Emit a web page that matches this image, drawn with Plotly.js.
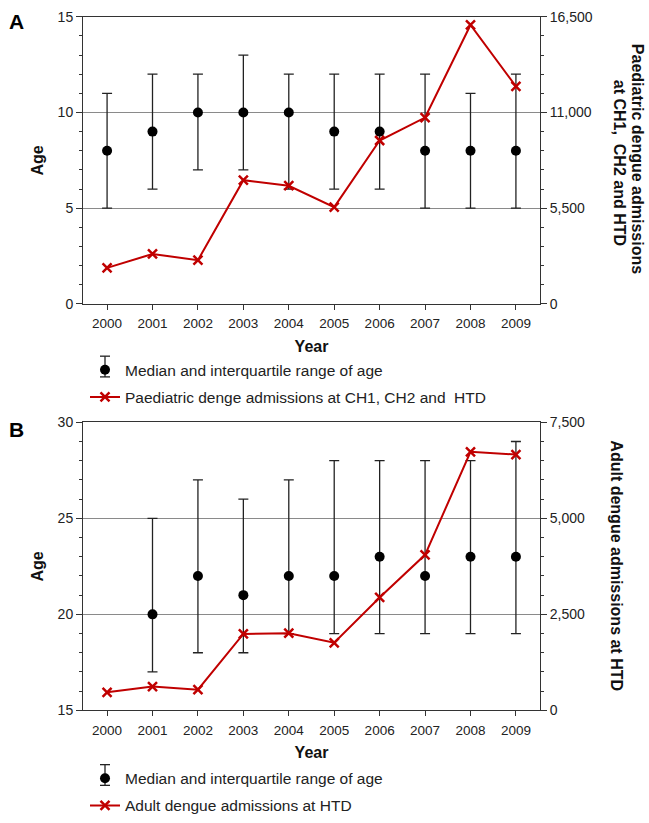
<!DOCTYPE html>
<html><head><meta charset="utf-8">
<script src="https://cdn.plot.ly/plotly-3.0.1.min.js"></script>
<style>html,body{margin:0;padding:0;background:#fff}#chart{width:649px;height:823px}</style>
</head><body><div id="chart"></div>
<script>
const years = [2000,2001,2002,2003,2004,2005,2006,2007,2008,2009];

// Panel A – paediatric
const paedMedian = [8,9,10,10,10,9,9,8,8,8];
const paedQ1     = [5,6,7,7,6,6,6,5,5,5];
const paedQ3     = [11,12,12,13,12,12,12,12,11,12];
const paedAdmissions = [2070,2870,2510,7110,6790,5560,9390,10710,16030,12500];

// Panel B – adult
const adultMedian = [null,20,22,21,22,22,23,22,23,23];
const adultQ1     = [null,17,18,18,19,19,19,19,19,19];
const adultQ3     = [null,25,27,26,27,28,28,28,28,29];
const adultAdmissions = [470,620,540,1990,2010,1760,2940,4050,6730,6660];

const xTickLabels = years.map(String);

const RED = '#c00000';
const FONT = 'Liberation Sans, Arial, sans-serif';

function errTrace(med, q1, q3, xa, ya, legend) {
  return {
    x: years, y: med, xaxis: xa, yaxis: ya, type: 'scatter', mode: 'markers',
    name: 'Median and interquartile range of age', legend: legend, legendgroup: legend+'a',
    marker: {color: '#000', size: 10},
    error_y: {type: 'data', symmetric: false,
      array: q3.map((v,i)=> v==null?null:v-med[i]),
      arrayminus: q1.map((v,i)=> v==null?null:med[i]-v),
      color: '#222', thickness: 1.3, width: 5}
  };
}
function lineTrace(vals, xa, ya, name, legend) {
  return {
    x: years, y: vals, xaxis: xa, yaxis: ya, type: 'scatter', mode: 'lines+markers',
    name: name, legend: legend, legendgroup: legend+'b',
    line: {color: RED, width: 2},
    marker: {color: RED, symbol: 'x-thin', size: 9, line: {color: RED, width: 2.5}}
  };
}

const data = [
  errTrace(paedMedian, paedQ1, paedQ3, 'x', 'y', 'legend'),
  lineTrace(paedAdmissions, 'x', 'y2', 'Paediatric denge admissions at CH1, CH2 and  HTD', 'legend'),
  errTrace(adultMedian, adultQ1, adultQ3, 'x2', 'y3', 'legend2'),
  lineTrace(adultAdmissions, 'x2', 'y4', 'Adult dengue admissions at HTD', 'legend2')
];

const xDom = [83/649, 540/649];
const domA = [1-308/823, 1-17/823];
const domB = [1-720/823, 1-428/823];

function xAxis(dom, anchor) {
  return {domain: xDom, anchor: anchor, range: [1999.47, 2009.53],
    tickvals: years, ticktext: xTickLabels, ticks: 'outside', ticklen: 5, tickcolor: '#333',
    ticklabelstandoff: 2,
    showline: true, linecolor: '#333', linewidth: 1, mirror: true, showgrid: false, zeroline: false,
    tickfont: {family: FONT, size: 13.5, color: '#222'},
    title: {text: '<b>Year</b>', font: {family: FONT, size: 16, color: '#111'}, standoff: 10}};
}
function leftAxis(dom, range, anchor) {
  return {domain: dom, anchor: anchor, range: range, dtick: 5, tick0: 0,
    ticks: 'outside', ticklen: 6, tickcolor: '#333',
    minor: {dtick: 1, ticks: 'outside', ticklen: 3, tickcolor: '#333', showgrid: false},
    showline: true, linecolor: '#333', linewidth: 1, showgrid: true, gridcolor: '#8a8a8a', gridwidth: 1,
    zeroline: false, tickfont: {family: FONT, size: 14, color: '#222'},
    title: {text: '<b>Age</b>', font: {family: FONT, size: 16, color: '#111'}, standoff: 10}};
}
function rightAxis(dom, max, dtick, minor, overlay, anchor) {
  return {domain: dom, anchor: anchor, overlaying: overlay, side: 'right', range: [0, max],
    tick0: 0, dtick: dtick, tickformat: ',d', ticks: 'outside', ticklen: 6, tickcolor: '#333',
    minor: {dtick: minor, ticks: 'outside', ticklen: 3, tickcolor: '#333', showgrid: false},
    showline: true, linecolor: '#333', linewidth: 1, showgrid: false, zeroline: false,
    tickfont: {family: FONT, size: 14, color: '#222'}};
}

// legend error-bar glyphs (decoration next to the legend dot)
function legendBar(cy) {
  const X = 105/649, w = 5/649, top = 1-(cy-10)/823, bot = 1-(cy+11)/823;
  const s = {type: 'line', xref: 'paper', yref: 'paper', line: {color: '#222', width: 1.3}};
  return [
    Object.assign({x0: X, x1: X, y0: bot, y1: top}, s),
    Object.assign({x0: X-w, x1: X+w, y0: top, y1: top}, s),
    Object.assign({x0: X-w, x1: X+w, y0: bot, y1: bot}, s)
  ];
}

const layout = {
  width: 649, height: 823, margin: {l: 0, r: 0, t: 0, b: 0},
  paper_bgcolor: '#fff', plot_bgcolor: '#fff', font: {family: FONT, color: '#222'},
  xaxis: xAxis(domA, 'y'),
  yaxis: leftAxis(domA, [0, 15], 'x'),
  yaxis2: rightAxis(domA, 16500, 5500, 1100, 'y', 'x'),
  xaxis2: xAxis(domB, 'y3'),
  yaxis3: leftAxis(domB, [15, 30], 'x2'),
  yaxis4: rightAxis(domB, 7500, 2500, 500, 'y3', 'x2'),
  legend: {x: 85/649, xanchor: 'left', y: 1-358/823, yanchor: 'top', tracegroupgap: 4,
    font: {family: FONT, size: 15.5, color: '#222'}, bgcolor: 'rgba(0,0,0,0)'},
  legend2: {x: 85/649, xanchor: 'left', y: 1-772/823, yanchor: 'top', tracegroupgap: 4,
    font: {family: FONT, size: 15.5, color: '#222'}, bgcolor: 'rgba(0,0,0,0)'},
  shapes: [].concat(legendBar(371), legendBar(785)),
  annotations: [
    {text: '<b>A</b>', xref: 'paper', yref: 'paper', x: 7/649, y: 1-22/823, xanchor: 'left', yanchor: 'middle',
     showarrow: false, font: {family: FONT, size: 21, color: '#000'}},
    {text: '<b>B</b>', xref: 'paper', yref: 'paper', x: 7/649, y: 1-435/823, xanchor: 'left', yanchor: 'middle',
     showarrow: false, font: {family: FONT, size: 21, color: '#000'}},
    {text: '<b>Paediatric dengue admissions</b>', xref: 'paper', yref: 'paper',
     x: 637/649, y: 1-161/823, xanchor: 'center', yanchor: 'middle', textangle: 90, showarrow: false,
     font: {family: FONT, size: 16, color: '#111'}},
    {text: '<b>at CH1,  CH2 and HTD</b>', xref: 'paper', yref: 'paper',
     x: 619/649, y: 1-165/823, xanchor: 'center', yanchor: 'middle', textangle: 90, showarrow: false,
     font: {family: FONT, size: 16, color: '#111'}},
    {text: '<b>Adult dengue admissions at HTD</b>', xref: 'paper', yref: 'paper',
     x: 617/649, y: 1-573/823, xanchor: 'center', yanchor: 'middle', textangle: 90, showarrow: false,
     font: {family: FONT, size: 16, color: '#111'}}
  ]
};

Plotly.newPlot('chart', data, layout, {displayModeBar: false, staticPlot: true});
</script></body></html>
